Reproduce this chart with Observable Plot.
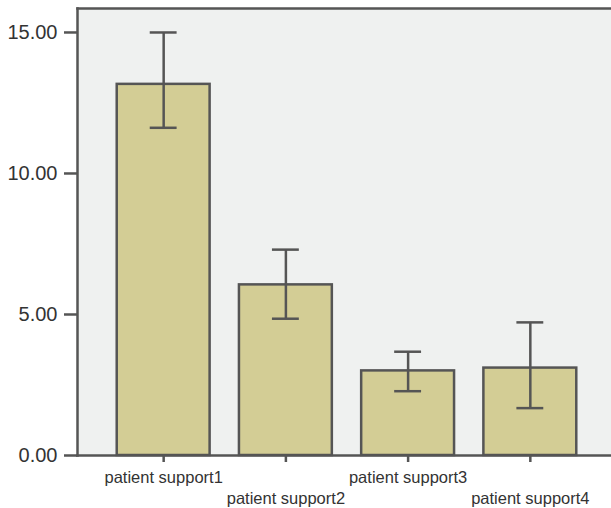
<!DOCTYPE html>
<html>
<head>
<meta charset="utf-8">
<script src="https://cdn.jsdelivr.net/npm/d3@7"></script>
<script src="https://cdn.jsdelivr.net/npm/@observablehq/plot@0.6"></script>
<style>
  html, body { margin: 0; padding: 0; background: #ffffff; }
  #chart svg { display: block; }
</style>
</head>
<body>
<div id="chart"></div>
<script>
// Mean scores per item with error-bar bounds
const categories = ["patient support1", "patient support2", "patient support3", "patient support4"];
const means = [13.16, 6.05, 3.00, 3.10];
const lower = [11.62, 4.85, 2.28, 1.68];
const upper = [15.00, 7.30, 3.68, 4.72];
const yTicks = [0, 5, 10, 15];

const data = categories.map((c, i) => ({ cat: c, mean: means[i], lo: lower[i], hi: upper[i] }));
const evenCats = categories.filter((d, i) => i % 2 === 0);
const oddCats = categories.filter((d, i) => i % 2 === 1);

const ink = "#555555";

const chart = Plot.plot({
  width: 611,
  height: 508,
  marginLeft: 77,
  marginRight: 0,
  marginTop: 8,
  marginBottom: 53,
  style: { fontFamily: "'Liberation Sans', Arial, sans-serif", color: "#333333", background: "#ffffff" },
  x: { domain: categories, range: [77, 616], paddingInner: 0.24, paddingOuter: 0.325, align: 0.5, round: false },
  y: { domain: [0, 15.85] },
  marks: [
    Plot.frame({ fill: "#eff1f0", stroke: null }),
    Plot.barY(data, { x: "cat", y: "mean", fill: "#d3cd95", stroke: ink, strokeWidth: 2.5 }),
    Plot.ruleX(data, { x: "cat", y1: "lo", y2: "hi", stroke: ink, strokeWidth: 2.5 }),
    Plot.tickY(data, { x: "cat", y: "hi", stroke: ink, strokeWidth: 2.5, insetLeft: 33, insetRight: 33 }),
    Plot.tickY(data, { x: "cat", y: "lo", stroke: ink, strokeWidth: 2.5, insetLeft: 33, insetRight: 33 }),
    Plot.frame({ anchor: "left", stroke: ink, strokeWidth: 2.5 }),
    Plot.frame({ anchor: "top", stroke: ink, strokeWidth: 2.5 }),
    Plot.frame({ anchor: "bottom", stroke: ink, strokeWidth: 2.5 }),
    Plot.axisY(yTicks, {
      tickSize: 13, tickPadding: 7, tickFormat: d3.format(".2f"),
      stroke: ink, strokeWidth: 2.5, fontSize: 20, fill: "#333333", label: null
    }),
    Plot.axisX(evenCats, {
      tickSize: 7, tickPadding: 9, stroke: ink, strokeWidth: 2.5,
      fontSize: 16.5, fill: "#333333", label: null
    }),
    Plot.axisX(oddCats, {
      tickSize: 7, tickPadding: 30, stroke: ink, strokeWidth: 2.5,
      fontSize: 16.5, fill: "#333333", label: null
    })
  ]
});

document.getElementById("chart").appendChild(chart);
</script>
</body>
</html>
